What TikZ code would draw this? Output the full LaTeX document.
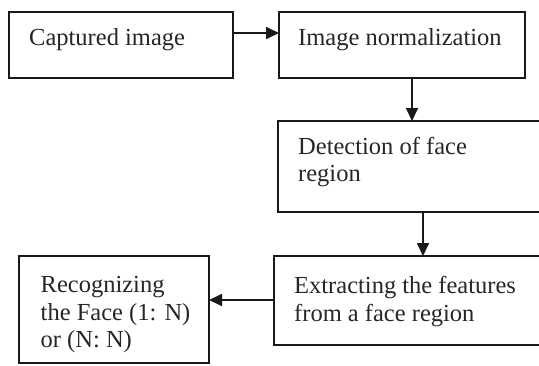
\documentclass[tikz,border=0pt]{standalone}
\usepackage{fontspec}
\setmainfont{Liberation Serif}
\usetikzlibrary{arrows.meta}
\begin{document}
\begin{tikzpicture}[x=1pt,y=-1pt,
  stage/.style={draw=black!90, line width=1.8pt, outer sep=0pt, inner sep=0pt, anchor=north west},
  caption/.style={anchor=north west, inner sep=0pt, align=left, text=black!85,
    font=\fontsize{24.5}{27.5}\selectfont},
  flow/.style={line width=1.8pt, draw=black!90, -{Triangle[length=13pt,width=12pt]}}]
\useasboundingbox (0,0) rectangle (539,365);
\clip (0,0) rectangle (539,365);

% process boxes
\node[stage, minimum width=224pt, minimum height=66pt] (b1) at (9,12) {};
\node[stage, minimum width=246pt, minimum height=66pt] (b2) at (279,12) {};
\node[stage, minimum width=290pt, minimum height=91pt] (b3) at (278,121) {};
\node[stage, minimum width=290pt, minimum height=89pt] (b4) at (274,256) {};
\node[stage, minimum width=190pt, minimum height=107pt] (b5) at (19,256) {};

% box texts, set from the top left corner
\node[caption] (t1) at (29,28.3) {Captured image};
\node[caption] (t2) at (298,28.3) {Image normalization};
\node[caption] (t3) at (298,136.6) {Detection of face\\region};
\node[caption] (t4) at (294,276.3) {Extracting the features\\from a face region};
\node[caption] (t5) at (40.5,276.3) {Recognizing\\the Face (1: N)\\or (N: N)};

% flow arrows
\draw[flow] (b1.east |- 0,33) -- (b2.west |- 0,33);
\draw[flow] (b2.south -| 412,0) -- (b3.north -| 412,0);
\draw[flow] (b3.south -| 423,0) -- (b4.north -| 423,0);
\draw[flow] (b4.west |- 0,300) -- (b5.east |- 0,300);
\end{tikzpicture}
\end{document}
